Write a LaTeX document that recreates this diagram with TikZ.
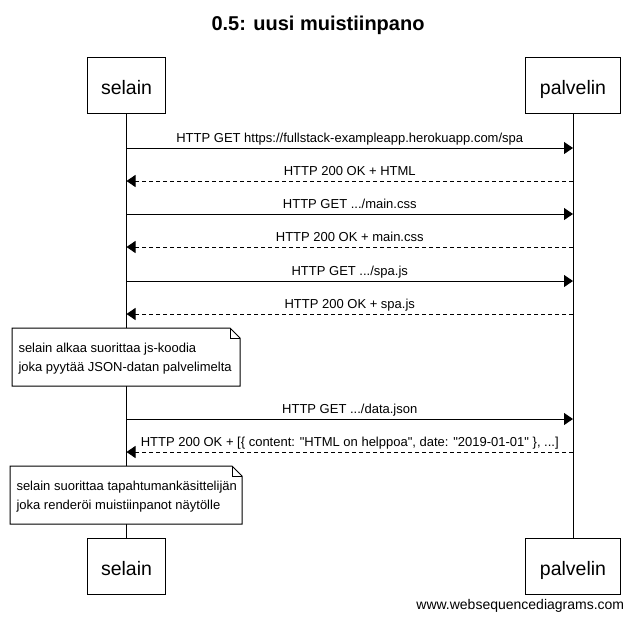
\documentclass[tikz,border=0pt]{standalone}
\usepackage{fontspec}
\setmainfont{Liberation Sans}[Ligatures=TeXOff]
\usetikzlibrary{arrows.meta}
\begin{document}
\begin{tikzpicture}[x=1pt,y=-1pt,line width=1pt,
      osallinen/.style={draw, rectangle, minimum height=56pt, inner xsep=14pt,
        text height=19pt, text depth=0pt, font=\fontsize{19.5}{22}\selectfont},
      viesti/.style={-{Triangle[length=9pt,width=12pt]}},
      vastaus/.style={viesti, dash pattern=on 4pt off 3pt},
      teksti/.style={above=2pt, inner sep=0pt, text height=10pt, text depth=3pt,
        font=\fontsize{13}{15}\selectfont},
      muistio/.style={anchor=west, inner sep=0pt, align=left,
        font=\fontsize{13}{19}\selectfont}]
    \useasboundingbox (0,0) rectangle (635,619);
    \node[font=\bfseries\fontsize{20}{24}\selectfont] at (318,25) (otsikko) {0.5: uusi muistiinpano};
    \node[osallinen] at (126.5,85) (selain1) {selain};
    \node[osallinen] at (573,85) (palvelin1) {palvelin};
    \node[osallinen] at (126.5,566) (selain2) {selain};
    \node[osallinen] at (573,566) (palvelin2) {palvelin};
    \draw (selain1) -- (selain2) ;
    \draw (palvelin1) -- (palvelin2) ;
    \foreach \n/\y in {1/148,2/181,3/214,4/247,5/281,6/314,7/419,8/452} {
      \coordinate (s\n) at (126.5,\y);
      \coordinate (p\n) at (573,\y);
    }
    \draw[viesti] (s1) -- node[teksti] {HTTP GET https://fullstack-exampleapp.herokuapp.com/spa} (p1) ;
    \draw[vastaus] (p2) -- node[teksti] {HTTP 200 OK + HTML} (s2) ;
    \draw[viesti] (s3) -- node[teksti] {HTTP GET .../main.css} (p3) ;
    \draw[vastaus] (p4) -- node[teksti] {HTTP 200 OK + main.css} (s4) ;
    \draw[viesti] (s5) -- node[teksti] {HTTP GET .../spa.js} (p5) ;
    \draw[vastaus] (p6) -- node[teksti] {HTTP 200 OK + spa.js} (s6) ;
    \draw[viesti] (s7) -- node[teksti] {HTTP GET .../data.json} (p7) ;
    \draw[vastaus] (p8) -- node[teksti] {HTTP 200 OK + [\{ content: "HTML on helppoa", date: "2019-01-01" \}, ...]} (s8) ;
    % muistiot
    \filldraw[fill=white] (12,328) -- (230,328) -- (240,338) -- (240,386) -- (12,386) -- cycle ;
    \draw (230,328) |- (240,338) ;
    \node[muistio] at (18,359) (muistio1) {selain alkaa suorittaa js-koodia\\joka pyytää JSON-datan palvelimelta};
    \filldraw[fill=white] (10,466) -- (232,466) -- (242,476) -- (242,524) -- (10,524) -- cycle ;
    \draw (232,466) |- (242,476) ;
    \node[muistio] at (16,497) (muistio2) {selain suorittaa tapahtumankäsittelijän\\joka renderöi muistiinpanot näytölle};
    \node[anchor=east, font=\fontsize{14}{16}\selectfont] at (628,606) (wsd) {www.websequencediagrams.com};
  \end{tikzpicture}
\end{document}
